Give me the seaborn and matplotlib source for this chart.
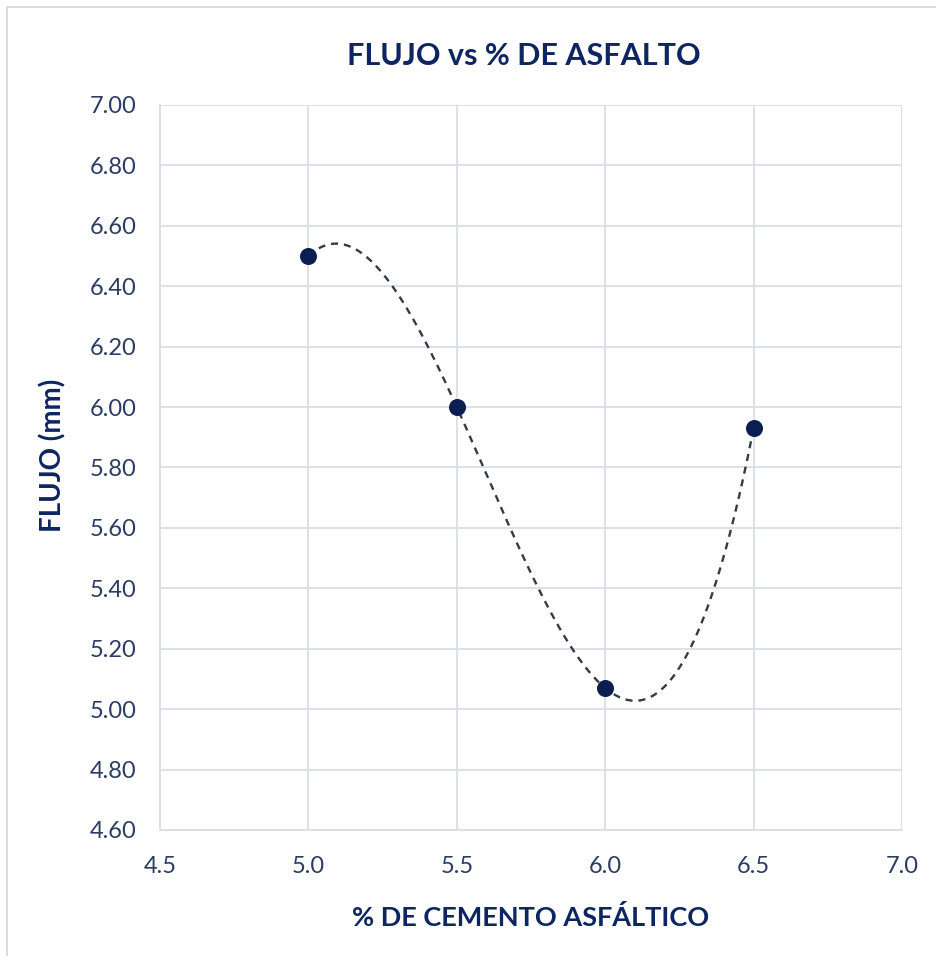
import numpy as np
import pandas as pd
import matplotlib
matplotlib.use("Agg")
import matplotlib.pyplot as plt
import seaborn as sns
from matplotlib.patches import Rectangle

# data
asphalt_pct = [5.0, 5.5, 6.0, 6.5]
flow_mm = [6.50, 6.00, 5.07, 5.93]
x_ticks = [4.5, 5.0, 5.5, 6.0, 6.5, 7.0]
y_ticks = [4.60, 4.80, 5.00, 5.20, 5.40, 5.60, 5.80, 6.00, 6.20, 6.40, 6.60, 6.80, 7.00]

title = "FLUJO vs % DE ASFALTO"
xlabel = "% DE CEMENTO ASFÁLTICO"
ylabel = "FLUJO (mm)"

sns.set_theme(style="white")
plt.rcParams['font.family'] = ['Lato', 'DejaVu Sans']

navy = "#0D2560"
tick_col = "#2B3C63"
grid_col = "#D9DEE7"

fig = plt.figure(figsize=(9.37, 9.56), dpi=100)
ax = fig.add_axes([160/937, 1-830/956, (902-160)/937, (830-105)/956])

df = pd.DataFrame({"x": asphalt_pct, "y": flow_mm})

# polynomial (order 3) trendline from data
coef = np.polyfit(asphalt_pct, flow_mm, 3)
xs = np.linspace(min(asphalt_pct), max(asphalt_pct), 300)
trend = pd.DataFrame({"x": xs, "y": np.polyval(coef, xs)})

sns.lineplot(data=trend, x="x", y="y", ax=ax, color="#333A48", linewidth=1.7,
             linestyle=(0, (3, 2.5)), zorder=3)
sns.scatterplot(data=df, x="x", y="y", ax=ax, color="#0B1E52", s=150,
                edgecolor="#0B1E52", linewidth=0, zorder=4)

ax.set_xlim(4.5, 7.0)
ax.set_ylim(4.6, 7.0)
ax.set_xticks(x_ticks)
ax.set_xticklabels([f"{v:.1f}" for v in x_ticks])
ax.set_yticks(y_ticks)
ax.set_yticklabels([f"{v:.2f}" for v in y_ticks])
ax.grid(True, color=grid_col, linewidth=1.3)
ax.set_axisbelow(True)
for side in ["top", "right"]:
    ax.spines[side].set_visible(False)
for side in ["left", "bottom"]:
    ax.spines[side].set_color(grid_col)
    ax.spines[side].set_linewidth(1.3)
ax.tick_params(axis="both", colors=tick_col, labelsize=17, length=0)
ax.tick_params(axis="y", pad=17)
ax.tick_params(axis="x", pad=19)
for lab in ax.get_xticklabels() + ax.get_yticklabels():
    lab.set_color(tick_col)

ax.set_xlabel(xlabel, fontsize=19.5, fontweight="bold", color=navy, labelpad=20)
ax.set_ylabel(ylabel, fontsize=20, fontweight="bold", color=navy, labelpad=20)
ax.yaxis.set_label_coords((66 - 160) / (902 - 160), (830 - 455) / (830 - 105))
fig.text(524/937, 1-56/956, title, ha="center", va="center", fontsize=22,
         fontweight="bold", color=navy)

fig.patches.append(Rectangle((7/937, -0.01), 1.0, 1-7/956+0.01, transform=fig.transFigure,
                             fill=False, edgecolor="#D9D9D9", linewidth=1.3))

fig.savefig("out.png", dpi=100, facecolor="white")
